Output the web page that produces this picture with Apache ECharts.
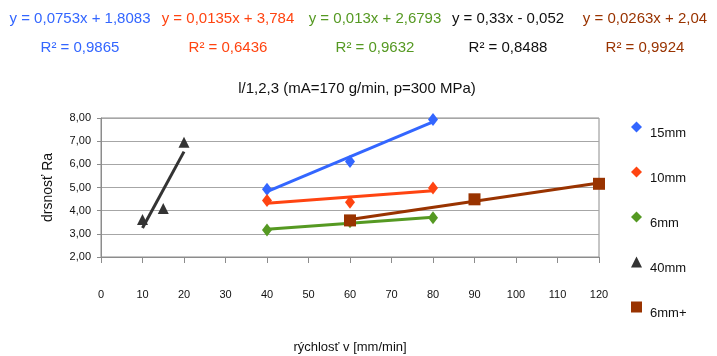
<!DOCTYPE html>
<html>
<head>
<meta charset="utf-8">
<script src="https://cdn.jsdelivr.net/npm/echarts@6/dist/echarts.min.js"></script>
<style>
html,body{margin:0;padding:0;background:#fff;}
#chart{width:717px;height:356px;}
</style>
</head>
<body>
<div id="chart"></div>
<script>
// ---- data ----
const seriesNames = ['15mm', '10mm', '6mm', '40mm', '6mm+'];
const speed15 = [40, 60, 80];
const ra15 = [4.92, 6.12, 7.93];
const speed10 = [40, 60, 80];
const ra10 = [4.44, 4.36, 4.98];
const speed6 = [40, 60, 80];
const ra6 = [3.17, 3.52, 3.69];
const speed40 = [10, 15, 20];
const ra40 = [3.62, 4.09, 6.95];
const speed6p = [60, 90, 120];
const ra6p = [3.58, 4.49, 5.16];
// trendline coefficients (y = slope*x + intercept) and R² from the reference
const slopes = [0.0753, 0.0135, 0.013, 0.33, 0.0263];
const intercepts = [1.8083, 3.784, 2.6793, -0.052, 2.04];
const equationTexts = ['y = 0,0753x + 1,8083', 'y = 0,0135x + 3,784', 'y = 0,013x + 2,6793', 'y = 0,33x - 0,052', 'y = 0,0263x + 2,04'];
const r2Texts = ['0,9865', '0,6436', '0,9632', '0,8488', '0,9924'];
const yTicks = [2, 3, 4, 5, 6, 7, 8];
const xTicks = [0, 10, 20, 30, 40, 50, 60, 70, 80, 90, 100, 110, 120];

const colors = ['#3366FF', '#FF4411', '#559922', '#333333', '#993300'];
const eqColors = ['#3366FF', '#FF4411', '#559922', '#111111', '#993300'];
const symbols = ['diamond', 'diamond', 'diamond', 'triangle', 'rect'];
const symbolSizes = [[10, 13], [10, 13], [10, 13], [11, 11], [12, 12]];
const speeds = [speed15, speed10, speed6, speed40, speed6p];
const ras = [ra15, ra10, ra6, ra40, ra6p];
const eqCenters = [80, 228, 375, 508, 645];

const FONT = 'Liberation Sans, Arial, sans-serif';

const series = [];
// trendlines (drawn under markers)
for (let i = 0; i < seriesNames.length; i++) {
  const xs = speeds[i];
  const x0 = Math.min(...xs), x1 = Math.max(...xs);
  series.push({
    name: seriesNames[i] + ' trend',
    type: 'line',
    data: [[x0, slopes[i] * x0 + intercepts[i]], [x1, slopes[i] * x1 + intercepts[i]]],
    symbol: 'none',
    lineStyle: { color: colors[i], width: 3 },
    z: 2,
    silent: true,
    animation: false
  });
}
for (let i = 0; i < seriesNames.length; i++) {
  series.push({
    name: seriesNames[i],
    type: 'scatter',
    data: speeds[i].map((x, k) => [x, ras[i][k]]),
    symbol: symbols[i],
    symbolSize: symbolSizes[i],
    itemStyle: { color: colors[i], opacity: 1 },
    z: 5,
    animation: false
  });
}

const graphics = [];
for (let i = 0; i < seriesNames.length; i++) {
  graphics.push({
    type: 'text', x: eqCenters[i], y: 19,
    style: { text: equationTexts[i], fill: eqColors[i], font: '15px ' + FONT, align: 'center', verticalAlign: 'middle' }
  });
  graphics.push({
    type: 'text', x: eqCenters[i], y: 48,
    style: { text: 'R² = ' + r2Texts[i], fill: eqColors[i], font: '15px ' + FONT, align: 'center', verticalAlign: 'middle' }
  });
}

const chart = echarts.init(document.getElementById('chart'), null, { renderer: 'canvas' });
chart.setOption({
  animation: false,
  backgroundColor: '#ffffff',
  textStyle: { fontFamily: FONT },
  title: {
    text: 'l/1,2,3 (mA=170 g/min, p=300 MPa)',
    left: 352, top: 76, textAlign: 'center',
    textStyle: { fontSize: 15, fontWeight: 'normal', color: '#111', fontFamily: FONT }
  },
  graphic: graphics,
  grid: {
    left: 101, right: 118, top: 118, bottom: 99,
    show: true, borderColor: '#8c8c8c', borderWidth: 1
  },
  legend: {
    orient: 'vertical',
    left: 631, top: 114,
    padding: 0,
    itemWidth: 11, itemHeight: 11,
    itemGap: 19,
    data: seriesNames.map((n, i) => ({ name: n, icon: symbols[i] })),
    formatter: name => '\n' + name,
    textStyle: { fontSize: 13, lineHeight: 13, color: '#111', padding: [0, 0, 0, 3], fontFamily: FONT }
  },
  xAxis: {
    type: 'value', min: 0, max: 120, interval: 10,
    name: 'rýchlosť v [mm/min]', nameLocation: 'middle', nameGap: 84,
    nameTextStyle: { fontSize: 13, color: '#111' },
    axisLine: { show: true, onZero: false, lineStyle: { color: '#8c8c8c', width: 1 } },
    axisTick: { show: true, length: 6, lineStyle: { color: '#8c8c8c' } },
    axisLabel: { margin: 32, fontSize: 11, color: '#111',
      formatter: v => xTicks.includes(v) ? String(v) : '' },
    splitLine: { show: false }
  },
  yAxis: {
    type: 'value', min: 2, max: 8, interval: 1,
    name: 'drsnosť Ra', nameLocation: 'middle', nameGap: 46, nameRotate: 90,
    nameTextStyle: { fontSize: 14, color: '#111' },
    axisLine: { show: true, lineStyle: { color: '#8c8c8c', width: 1 } },
    axisTick: { show: true, length: 4, lineStyle: { color: '#8c8c8c' } },
    axisLabel: { margin: 10, fontSize: 11, color: '#111',
      formatter: v => yTicks.includes(v) ? v.toFixed(2).replace('.', ',') : '' },
    splitLine: { show: true, lineStyle: { color: '#a6a6a6', width: 1 } }
  },
  series: series
});
</script>
</body>
</html>
